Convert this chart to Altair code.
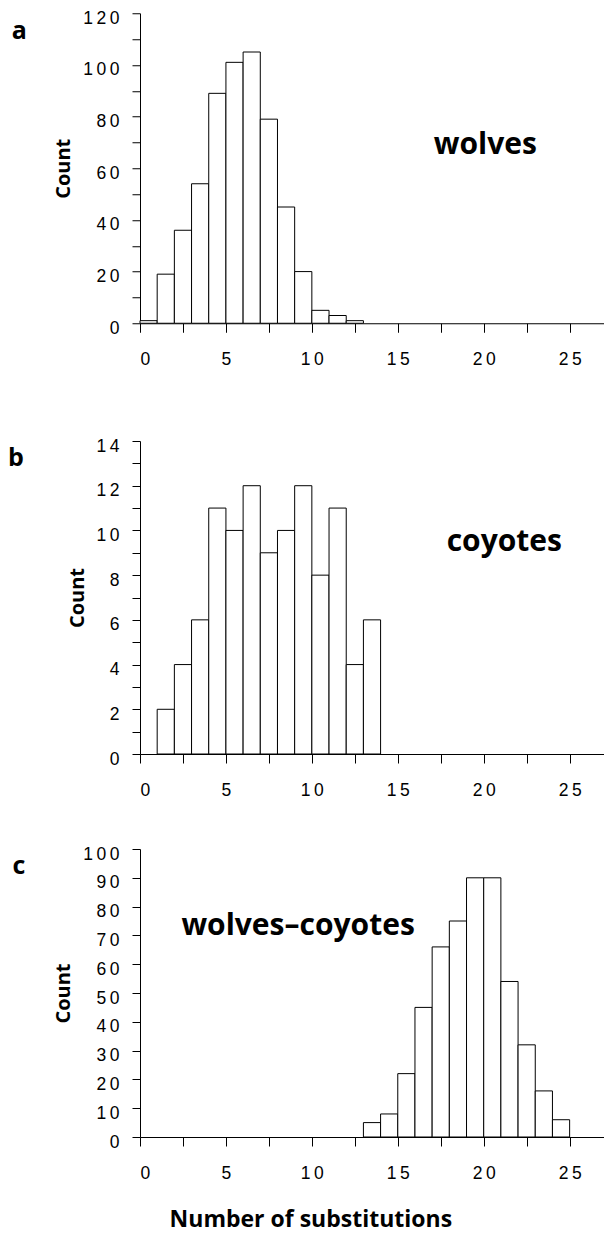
import altair as alt
import pandas as pd

# ---- data ----
wolves_bins = [0, 1, 2, 3, 4, 5, 6, 7, 8, 9, 10, 11, 12]
wolves_counts = [1, 19, 36, 54, 89, 101, 105, 79, 45, 20, 5, 3, 1]

coyotes_bins = [1, 2, 3, 4, 5, 6, 7, 8, 9, 10, 11, 12, 13]
coyotes_counts = [2, 4, 6, 11, 10, 12, 9, 10, 12, 8, 11, 4, 6]

wc_bins = [13, 14, 15, 16, 17, 18, 19, 20, 21, 22, 23, 24]
wc_counts = [5, 8, 22, 45, 66, 75, 90, 90, 54, 32, 16, 6]

x_tick_values = [0, 2.5, 5, 7.5, 10, 12.5, 15, 17.5, 20, 22.5, 25]
a_ticks = [0, 10, 20, 30, 40, 50, 60, 70, 80, 90, 100, 110, 120]
b_ticks = [0, 1, 2, 3, 4, 5, 6, 7, 8, 9, 10, 11, 12, 13, 14]
c_ticks = [0, 10, 20, 30, 40, 50, 60, 70, 80, 90, 100]

annot_text = ["wolves", "coyotes", "wolves\u2013coyotes"]
annot_x = [20.1, 21.2, 9.2]
annot_y = [65.7, 9.1, 70.0]
panel_letters = ["a", "b", "c"]
x_title = "Number of substitutions"
x_title_pos = [9.94]

TS = "\u2009"
W = 464
TICK_FONT = "Liberation Sans"
BOLD_FONT = "Open Sans"
LABEL_SIZE = 17.5


def spaced(cond):
    return f"({cond}) ? join(split(datum.label, ''), '{TS}') : ''"


def panel(bins, counts, ymax, yticks, ylab_every, idx, height, letter_x, letter_y, xtitle=False):
    df = pd.DataFrame({"start": bins, "end": [b + 1 for b in bins], "count": counts})
    xscale = alt.Scale(domain=[0, 27], nice=False, zero=False)
    yscale = alt.Scale(domain=[0, ymax], nice=False, zero=True)

    xaxis = alt.Axis(
        values=x_tick_values,
        labelExpr=spaced("datum.value % 5 == 0"),
        tickSize=9,
        labelPadding=18,
        labelFont=TICK_FONT,
        labelFontSize=LABEL_SIZE,
        labelAngle=0,
        labelOverlap=False,
        grid=False,
        title=None,
    )
    yaxis = alt.Axis(
        values=yticks,
        labelExpr=spaced(f"datum.value % {ylab_every} == 0"),
        tickSize=8,
        labelPadding=13,
        labelOffset=5,
        labelFont=TICK_FONT,
        labelFontSize=LABEL_SIZE,
        labelOverlap=False,
        title="Count",
        titleFont=BOLD_FONT,
        titleFontWeight="bold",
        titleFontSize=20,
        titlePadding=9,
        grid=False,
    )

    bars = alt.Chart(df).mark_bar(fill="white", stroke="black", strokeWidth=1).encode(
        x=alt.X("start:Q", scale=xscale, axis=xaxis),
        x2=alt.X2("end"),
        y=alt.Y("count:Q", scale=yscale, axis=yaxis),
        y2=alt.datum(0),
    )

    ann_df = pd.DataFrame({"x": [annot_x[idx]], "y": [annot_y[idx]], "label": [annot_text[idx]]})
    ann = alt.Chart(ann_df).mark_text(
        font=BOLD_FONT, fontWeight="bold", fontSize=30, baseline="alphabetic", align="center", color="black"
    ).encode(
        x=alt.X("x:Q", scale=xscale, axis=xaxis),
        y=alt.Y("y:Q", scale=yscale, axis=yaxis),
        text="label:N",
    )

    let_df = pd.DataFrame({"letter": [panel_letters[idx]]})
    let = alt.Chart(let_df).mark_text(
        font=BOLD_FONT, fontWeight="bold", fontSize=25, baseline="middle", align="center", color="black"
    ).encode(
        x=alt.value(letter_x),
        y=alt.value(letter_y),
        text="letter:N",
    )

    layers = [bars, ann, let]
    if xtitle:
        t_df = pd.DataFrame({"x": x_title_pos, "label": [x_title]})
        tt = alt.Chart(t_df).mark_text(
            font=BOLD_FONT, fontWeight="bold", fontSize=23, baseline="alphabetic", align="center", color="black"
        ).encode(
            x=alt.X("x:Q", scale=xscale, axis=xaxis),
            y=alt.value(height + 90),
            text="label:N",
        )
        layers.append(tt)

    return alt.layer(*layers).properties(width=W, height=height)


pa = panel(wolves_bins, wolves_counts, 120, a_ticks, 20, 0, 310, -120.7, 18)
pb = panel(coyotes_bins, coyotes_counts, 14, b_ticks, 2, 1, 313, -124, 17)
pc = panel(wc_bins, wc_counts, 100, c_ticks, 10, 2, 288, -121, 17, xtitle=True)

top = alt.vconcat(pa, pb, spacing=68.75)
chart = (
    alt.vconcat(top, pc, spacing=45.75)
    .properties(padding={"left": 0, "top": 1.25, "right": 0, "bottom": 6})
    .configure_view(strokeWidth=0)
    .configure_axis(
        domainColor="black",
        tickColor="black",
        labelColor="black",
        titleColor="black",
        domainWidth=1,
        tickWidth=1,
    )
)

chart.save("out.html", embed_options={"renderer": "svg", "actions": False})
